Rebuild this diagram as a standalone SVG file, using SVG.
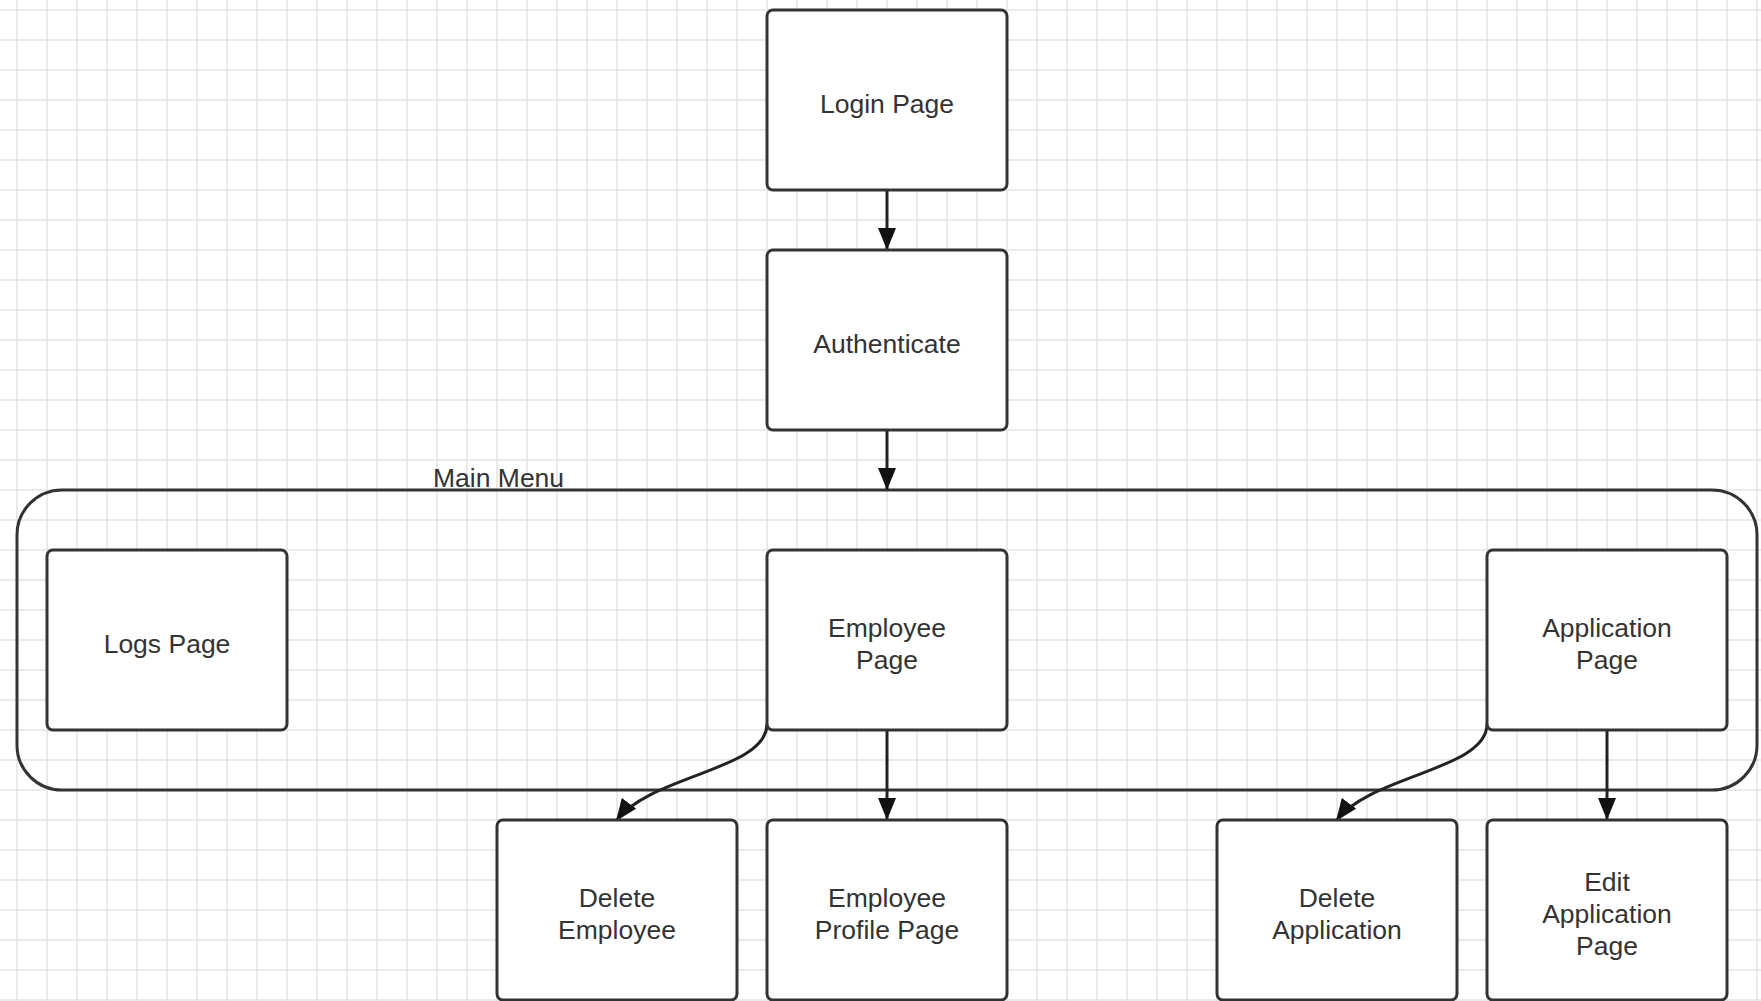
<svg xmlns="http://www.w3.org/2000/svg" width="1761" height="1001" viewBox="0 0 1761 1001">
  <style>
    .box { fill: #ffffff; stroke: #333333; stroke-width: 3; }
    .frame { fill: none; stroke: #333333; stroke-width: 3; }
    .lbl { font-family: "Liberation Sans", Arial, sans-serif; font-size: 26.5px; fill: #333333; text-anchor: middle; }
    .conn { fill: none; stroke: #222222; stroke-width: 3; }
  </style>
  <defs>
    <pattern id="grid" patternUnits="userSpaceOnUse" x="2" y="-5" width="30" height="30">
      <path d="M15 0 V30 M0 15 H30" fill="none" stroke="#e3e3e3" stroke-width="1.5"/>
    </pattern>
    <marker id="arrow" viewBox="0 0 22 18" refX="22" refY="9" markerWidth="22" markerHeight="18" markerUnits="userSpaceOnUse" orient="auto">
      <path d="M0 0 L22 9 L0 18 Z" fill="#111111"/>
    </marker>
  </defs>

  <rect x="0" y="0" width="1761" height="1001" fill="#ffffff"/>
  <rect x="0" y="0" width="1761" height="1001" fill="url(#grid)"/>

  <g id="main-menu">
    <rect class="frame" x="17" y="490" width="1740" height="300" rx="45" ry="45"/>
    <text class="lbl" x="433" y="487" style="text-anchor:start">Main Menu</text>
  </g>

  <g id="connectors">
    <path class="conn" d="M887 191 V250" marker-end="url(#arrow)"/>
    <path class="conn" d="M887 431 V490" marker-end="url(#arrow)"/>
    <path class="conn" d="M887 731 V820" marker-end="url(#arrow)"/>
    <path class="conn" d="M1607 731 V820" marker-end="url(#arrow)"/>
    <path class="conn" d="M767 724 C767 770, 650 775, 616 821" marker-end="url(#arrow)"/>
    <path class="conn" d="M1487 724 C1487 770, 1370 775, 1336 821" marker-end="url(#arrow)"/>
  </g>

  <g id="login-page">
    <rect class="box" x="767" y="10" width="240" height="180" rx="6"/>
    <text class="lbl" x="887" y="113">Login Page</text>
  </g>
  <g id="authenticate">
    <rect class="box" x="767" y="250" width="240" height="180" rx="6"/>
    <text class="lbl" x="887" y="353">Authenticate</text>
  </g>
  <g id="logs-page">
    <rect class="box" x="47" y="550" width="240" height="180" rx="6"/>
    <text class="lbl" x="167" y="653">Logs Page</text>
  </g>
  <g id="employee-page">
    <rect class="box" x="767" y="550" width="240" height="180" rx="6"/>
    <text class="lbl" x="887" y="637">Employee</text>
    <text class="lbl" x="887" y="669">Page</text>
  </g>
  <g id="application-page">
    <rect class="box" x="1487" y="550" width="240" height="180" rx="6"/>
    <text class="lbl" x="1607" y="637">Application</text>
    <text class="lbl" x="1607" y="669">Page</text>
  </g>
  <g id="delete-employee">
    <rect class="box" x="497" y="820" width="240" height="180" rx="6"/>
    <text class="lbl" x="617" y="907">Delete</text>
    <text class="lbl" x="617" y="939">Employee</text>
  </g>
  <g id="employee-profile-page">
    <rect class="box" x="767" y="820" width="240" height="180" rx="6"/>
    <text class="lbl" x="887" y="907">Employee</text>
    <text class="lbl" x="887" y="939">Profile Page</text>
  </g>
  <g id="delete-application">
    <rect class="box" x="1217" y="820" width="240" height="180" rx="6"/>
    <text class="lbl" x="1337" y="907">Delete</text>
    <text class="lbl" x="1337" y="939">Application</text>
  </g>
  <g id="edit-application-page">
    <rect class="box" x="1487" y="820" width="240" height="180" rx="6"/>
    <text class="lbl" x="1607" y="891">Edit</text>
    <text class="lbl" x="1607" y="923">Application</text>
    <text class="lbl" x="1607" y="955">Page</text>
  </g>
</svg>
